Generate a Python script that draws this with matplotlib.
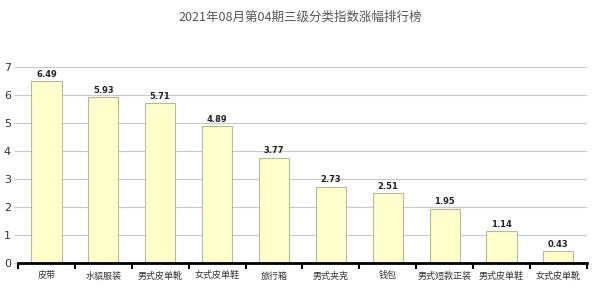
import matplotlib
matplotlib.use("Agg")
import matplotlib.pyplot as plt
import numpy as np

plt.rcParams['font.family'] = ['DejaVu Sans', 'Noto Sans CJK SC']

title = "2021年08月第04期三级分类指数涨幅排行榜"
categories = ["皮带", "水貂服装", "男式皮单靴", "女式皮单鞋", "旅行箱",
              "男式夹克", "钱包", "男式短款正装", "男式皮单鞋", "女式皮单靴"]
values = [6.49, 5.93, 5.71, 4.89, 3.77, 2.73, 2.51, 1.95, 1.14, 0.43]
yticks = [0, 1, 2, 3, 4, 5, 6, 7]

fig = plt.figure(figsize=(6, 2.94), dpi=100)
ax = fig.add_axes([0.03, 0.105, 0.948, 0.667])

x = np.arange(len(categories))
ax.bar(x, values, width=0.53, color="#ffffcc", edgecolor="#b8b89a", linewidth=0.8, zorder=3)
for xi, v in zip(x, values):
    ax.text(xi, v + 0.08, f"{v:.2f}", ha="center", va="bottom", fontsize=6,
            fontweight="bold", color="#222222", zorder=4)

ax.set_xlim(-0.5, len(categories) - 0.5)
ax.set_ylim(0, 7)
ax.set_yticks(yticks)
ax.set_yticklabels([str(t) for t in yticks], fontsize=8, color="#333333")
ax.yaxis.grid(True, color="#c8c8c8", linewidth=0.8, zorder=0)
ax.tick_params(axis="y", length=3, color="#c8c8c8", pad=2)

ax.set_xticks(np.arange(len(categories) + 1) - 0.5)
ax.set_xticklabels([])
ax.set_xticks(x, minor=True)
ax.set_xticklabels(categories, minor=True, fontsize=6.5, color="#333333",
                   family=['Noto Sans CJK SC', 'DejaVu Sans'])
ax.tick_params(axis="x", which="major", length=4, width=1.5, color="black", direction="out")
ax.tick_params(axis="x", which="minor", length=0, pad=6)

for s in ["top", "right", "left"]:
    ax.spines[s].set_visible(False)
ax.spines["bottom"].set_linewidth(2)
ax.spines["bottom"].set_color("black")
ax.spines["bottom"].set_zorder(5)

fig.text(0.5, 0.94, title, ha="center", va="center", fontsize=9, color="#555555",
         family=['Noto Sans CJK SC', 'DejaVu Sans'])

fig.savefig("out.png", dpi=100, facecolor="white")
